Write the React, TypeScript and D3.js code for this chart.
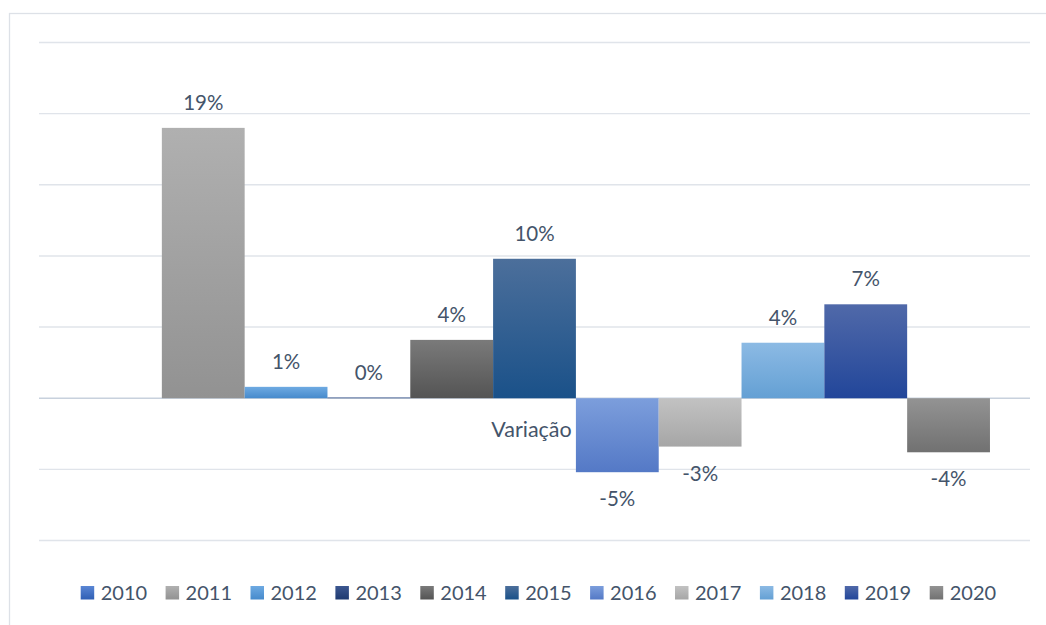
import React from "react";
import * as d3 from "d3";

const categories = ["Variação"];
const years = ["2010", "2011", "2012", "2013", "2014", "2015", "2016", "2017", "2018", "2019", "2020"];
const values: (number | null)[] = [null, 0.19, 0.008, 0.0005, 0.041, 0.098, -0.052, -0.034, 0.039, 0.066, -0.038];
const yTicks = [-0.1, -0.05, 0, 0.05, 0.1, 0.15, 0.2, 0.25];

// top / bottom colours of each series gradient
const colors: [string, string][] = [
  ["#5a86d4", "#2f5fb5"],
  ["#b0b0b0", "#929292"],
  ["#6eaae2", "#468acc"],
  ["#3c5790", "#1e3a70"],
  ["#7a7a7a", "#545454"],
  ["#4c6f9b", "#1a5189"],
  ["#7c9edc", "#5479c6"],
  ["#c2c2c2", "#a6a6a6"],
  ["#8cbae4", "#64a0d4"],
  ["#5069a9", "#22469a"],
  ["#939393", "#717171"],
];

const W = 1046;
const H = 625;
const plot = { left: 39, right: 1030, top: 42.5, bottom: 540.5 };
const textColor = "#44546a";
const font = "Lato, 'Open Sans', sans-serif";

const App = () => {
  const x0 = d3.scaleBand().domain(categories).range([plot.left, plot.right]);
  const pad = x0.bandwidth() * 0.0404;
  const x1 = d3.scaleBand().domain(years).range([pad, x0.bandwidth() - pad]);
  const y = d3.scaleLinear().domain([-0.1, 0.25]).range([plot.bottom, plot.top]);
  const fmt = d3.formatLocale({ decimal: ",", thousands: ".", grouping: [3], currency: ["", ""], minus: "-" }).format(".0%");

  return (
    <svg width={W} height={H} style={{ position: "absolute", left: 0, top: 0, background: "#fff" }}>
      <defs>
        {colors.map((c, i) => (
          <linearGradient key={i} id={"g" + i} x1="0" y1="0" x2="0" y2="1">
            <stop offset="0%" stopColor={c[0]} />
            <stop offset="100%" stopColor={c[1]} />
          </linearGradient>
        ))}
      </defs>

      {/* chart frame */}
      <rect x={9.5} y={13.5} width={W} height={H} fill="none" stroke="#dde1e7" strokeWidth={1.3} />

      {/* gridlines */}
      {yTicks.map((t) => (
        <line
          key={t}
          x1={plot.left}
          x2={plot.right}
          y1={y(t)}
          y2={y(t)}
          stroke={t === 0 ? "#c8d1dd" : "#e0e4ea"}
          strokeWidth={1.4}
        />
      ))}

      {/* bars */}
      {categories.map((cat) => (
        <g key={cat} transform={`translate(${x0(cat)},0)`}>
          {years.map((yr, i) => {
            const v = values[i];
            if (v === null) return null;
            const top = y(Math.max(0, v));
            const bot = y(Math.min(0, v));
            const cx = (x1(yr) as number) + x1.bandwidth() / 2;
            return (
              <g key={yr}>
                <rect x={x1(yr)} y={top} width={x1.bandwidth()} height={bot - top} fill={`url(#g${i})`} />
                <text
                  x={cx}
                  y={v >= 0 ? top - 18 : bot + 34}
                  textAnchor="middle"
                  fontFamily={font}
                  fontSize={20.5}
                  fill={textColor}
                >
                  {fmt(v)}
                </text>
              </g>
            );
          })}
          <text
            x={x0.bandwidth() / 2 - 3}
            y={y(0) + 39}
            textAnchor="middle"
            fontFamily={font}
            fontSize={21.5}
            fill={textColor}
          >
            {cat}
          </text>
        </g>
      ))}

      {/* legend */}
      {years.map((yr, i) => (
        <g key={yr} transform={`translate(${80.7 + i * 84.9},586)`}>
          <rect width={13.5} height={13.5} fill={`url(#g${i})`} />
          <text x={20} y={14} fontFamily={font} fontSize={20} fill={textColor}>
            {yr}
          </text>
        </g>
      ))}
    </svg>
  );
};

export default App;
